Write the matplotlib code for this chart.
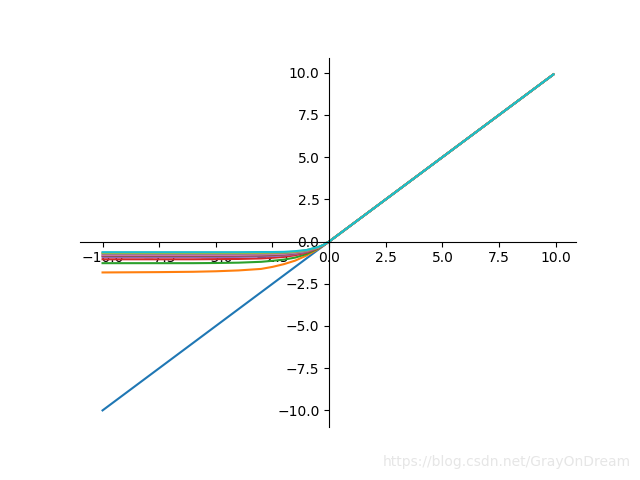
import matplotlib
matplotlib.use("Agg")
import matplotlib.pyplot as plt

# sample positions along x
xs = [-10, -7.5, -6, -5, -4, -3, -2.5, -2, -1.5, -1, -0.5, -0.25, 0, 9.9]

# one curve per colour
curves = [
    [-10, -7.5, -6, -5, -4, -3, -2.5, -2, -1.5, -1, -0.5, -0.25, 0, 9.9],
    [-1.83, -1.81, -1.79, -1.76, -1.71, -1.62, -1.50, -1.34, -1.13, -0.83, -0.45, -0.24, 0, 9.9],
    [-1.28, -1.28, -1.28, -1.27, -1.25, -1.20, -1.14, -1.07, -0.95, -0.74, -0.42, -0.23, 0, 9.9],
    [-1.05, -1.05, -1.05, -1.04, -1.03, -1.00, -0.96, -0.91, -0.81, -0.66, -0.40, -0.22, 0, 9.9],
    [-0.92, -0.92, -0.92, -0.92, -0.91, -0.89, -0.86, -0.82, -0.74, -0.61, -0.38, -0.22, 0, 9.9],
    [-0.85, -0.85, -0.85, -0.85, -0.84, -0.83, -0.80, -0.77, -0.70, -0.59, -0.37, -0.21, 0, 9.9],
    [-0.78, -0.78, -0.78, -0.78, -0.78, -0.76, -0.74, -0.72, -0.66, -0.56, -0.36, -0.21, 0, 9.9],
    [-0.72, -0.72, -0.72, -0.72, -0.72, -0.71, -0.70, -0.68, -0.63, -0.54, -0.35, -0.20, 0, 9.9],
    [-0.67, -0.67, -0.67, -0.67, -0.67, -0.66, -0.65, -0.64, -0.60, -0.51, -0.34, -0.20, 0, 9.9],
    [-0.63, -0.63, -0.63, -0.63, -0.63, -0.62, -0.62, -0.61, -0.57, -0.50, -0.33, -0.20, 0, 9.9],
]

fig, ax = plt.subplots(figsize=(6.4, 4.8), dpi=100)
for ys in curves:
    ax.plot(xs, ys)

ax.spines['right'].set_color('none')
ax.spines['top'].set_color('none')
ax.spines['left'].set_position(('data', 0))
ax.spines['bottom'].set_position(('data', 0))

fig.text(0.985, 0.038, "https://blog.csdn.net/GrayOnDream", ha='right', va='center',
         color='#e6e6e6', fontsize=10)

fig.savefig("out.png")
